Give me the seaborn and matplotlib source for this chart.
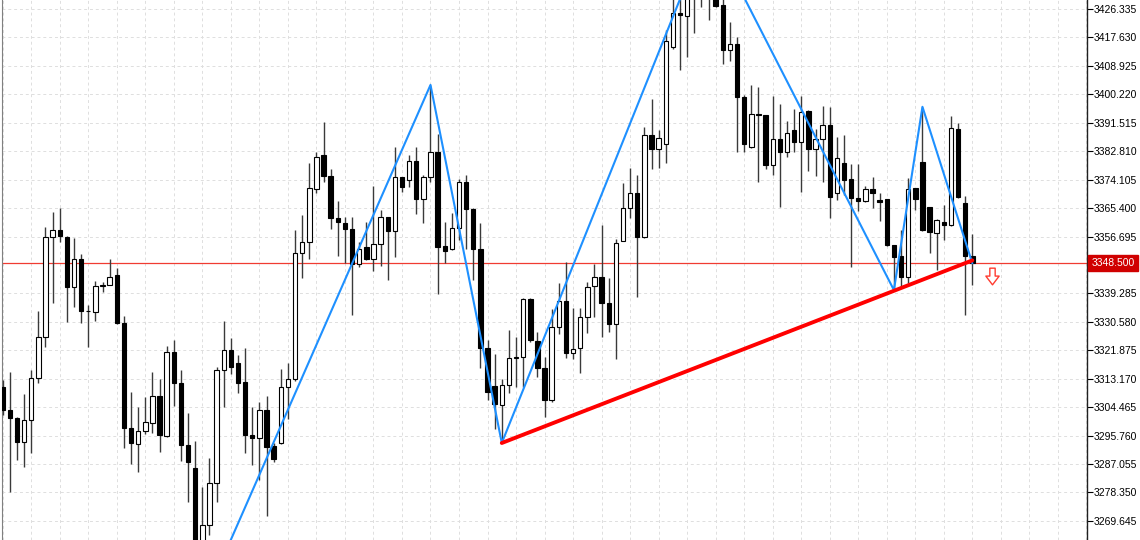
import numpy as np
import pandas as pd
import matplotlib
matplotlib.use("Agg")
import matplotlib.pyplot as plt
import matplotlib.transforms as mtransforms
from matplotlib.path import Path
import seaborn as sns

# --- datos OHLC (una vela por indice) ---
opens = [3310.7, 3303.6, 3301.1, 3293.9, 3300.5, 3313.3, 3325.9, 3356.5, 3358.7, 3356.5,
         3341.3, 3349.7, 3334.0, 3333.7, 3341.5, 3341.9, 3344.8, 3330.3, 3298.0, 3293.2,
         3297.3, 3299.7, 3308.0, 3295.7, 3321.3, 3311.8, 3292.9, 3285.8, 3259.2, 3268.4,
         3281.2, 3315.8, 3322.0, 3317.9, 3312.1, 3296.0, 3294.9, 3303.6, 3292.7, 3293.6,
         3310.5, 3313.0, 3351.7, 3355.1, 3371.2, 3381.6, 3375.2, 3362.3, 3360.7, 3358.9,
         3348.3, 3353.5, 3349.7, 3354.4, 3362.6, 3358.5, 3374.8, 3374.0, 3379.9, 3368.1,
         3375.0, 3382.7, 3353.8, 3352.8, 3359.2, 3373.3, 3365.1, 3352.8, 3322.5, 3310.9,
         3305.1, 3311.3, 3319.4, 3319.7, 3337.5, 3324.8, 3316.4, 3306.7, 3328.9, 3337.0,
         3321.0, 3322.5, 3332.0, 3341.4, 3344.2, 3336.3, 3329.9, 3355.4, 3365.3, 3370.1,
         3356.5, 3387.8, 3383.4, 3385.0, 3414.8, 3425.2, 3424.2, 3433.7, 3441.3, 3438.0,
         3444.0, 3427.6, 3413.8, 3415.5, 3399.3, 3384.0, 3394.1, 3393.9, 3378.6, 3386.5,
         3382.7, 3389.3, 3385.5, 3395.1, 3383.5, 3386.5, 3390.8, 3370.1, 3379.3, 3374.2,
         3368.4, 3367.7, 3371.2, 3367.9, 3368.1, 3354.1, 3350.7, 3344.2, 3371.5, 3379.6,
         3365.6, 3357.9, 3361.2, 3360.2, 3389.5, 3367.1, 3350.7]
highs = [3312.8, 3315.3, 3301.4, 3308.5, 3315.8, 3333.9, 3359.7, 3364.3, 3365.5, 3357.0,
         3356.2, 3351.3, 3335.6, 3343.2, 3342.9, 3349.7, 3347.0, 3332.4, 3309.0, 3304.4,
         3307.5, 3315.3, 3313.1, 3323.2, 3325.0, 3315.8, 3302.6, 3294.1, 3279.9, 3288.8,
         3316.9, 3330.9, 3325.5, 3320.4, 3322.5, 3304.4, 3306.1, 3307.9, 3293.4, 3316.2,
         3317.9, 3358.7, 3363.3, 3379.1, 3382.7, 3391.8, 3377.4, 3367.7, 3362.8, 3362.8,
         3355.1, 3361.1, 3372.3, 3364.8, 3362.8, 3384.2, 3374.9, 3381.6, 3384.0, 3375.5,
         3403.1, 3388.1, 3361.1, 3363.8, 3374.3, 3375.5, 3365.3, 3360.7, 3325.0, 3320.7,
         3313.0, 3328.1, 3326.0, 3337.8, 3338.0, 3327.6, 3319.7, 3334.4, 3342.4, 3349.0,
         3334.7, 3334.7, 3342.9, 3348.3, 3360.2, 3343.9, 3355.8, 3373.2, 3377.6, 3375.5,
         3390.3, 3398.7, 3389.3, 3419.9, 3431.5, 3430.6, 3436.7, 3444.4, 3446.0, 3451.1,
         3446.5, 3433.0, 3422.5, 3417.9, 3400.0, 3403.1, 3402.4, 3394.0, 3399.8, 3397.2,
         3392.1, 3395.6, 3399.8, 3395.4, 3389.6, 3396.6, 3396.4, 3387.2, 3387.8, 3378.9,
         3378.9, 3372.2, 3375.0, 3369.9, 3368.2, 3354.2, 3358.7, 3374.5, 3371.6, 3396.4,
         3365.7, 3362.0, 3366.3, 3393.6, 3391.5, 3369.1, 3357.5]
lows = [3302.1, 3278.6, 3288.3, 3286.2, 3290.3, 3312.0, 3322.8, 3336.4, 3354.9, 3330.6,
        3335.0, 3330.3, 3322.8, 3330.9, 3339.8, 3341.8, 3329.9, 3291.9, 3287.1, 3284.7,
        3296.2, 3296.6, 3290.8, 3295.2, 3304.9, 3288.1, 3275.5, 3253.1, 3244.0, 3265.3,
        3275.5, 3304.4, 3314.6, 3308.9, 3290.5, 3286.8, 3282.2, 3271.2, 3287.8, 3293.2,
        3300.8, 3312.6, 3344.1, 3349.7, 3370.1, 3373.5, 3358.9, 3350.7, 3348.5, 3332.7,
        3347.3, 3349.4, 3346.1, 3347.8, 3343.4, 3350.5, 3370.4, 3371.9, 3363.6, 3360.7,
        3373.5, 3339.0, 3348.5, 3352.5, 3355.6, 3352.8, 3343.4, 3316.4, 3306.7, 3297.7,
        3293.5, 3308.9, 3310.7, 3310.7, 3324.5, 3313.8, 3301.6, 3306.2, 3326.8, 3319.4,
        3319.1, 3315.0, 3327.1, 3332.2, 3325.9, 3327.6, 3319.1, 3355.2, 3362.3, 3338.3,
        3356.3, 3377.3, 3377.6, 3379.3, 3414.0, 3407.7, 3411.6, 3419.1, 3427.0, 3423.0,
        3426.9, 3409.5, 3410.4, 3382.7, 3382.7, 3383.8, 3373.5, 3377.4, 3375.5, 3365.8,
        3380.9, 3382.7, 3370.2, 3376.8, 3375.2, 3373.5, 3362.3, 3367.9, 3369.4, 3347.3,
        3364.6, 3367.4, 3365.3, 3361.5, 3353.9, 3340.3, 3341.3, 3342.6, 3364.8, 3358.5,
        3351.6, 3346.5, 3355.6, 3360.0, 3368.6, 3332.7, 3341.9]
closes = [3303.6, 3301.1, 3293.9, 3300.5, 3313.3, 3326.0, 3356.5, 3358.7, 3356.9, 3341.3,
          3349.7, 3334.0, 3333.8, 3341.6, 3341.9, 3344.4, 3330.1, 3298.0, 3293.4, 3297.3,
          3300.0, 3308.0, 3296.0, 3321.3, 3311.8, 3292.9, 3287.8, 3259.2, 3268.4, 3281.2,
          3315.8, 3322.0, 3316.9, 3312.0, 3296.0, 3294.9, 3303.6, 3292.4, 3288.6, 3310.7,
          3313.0, 3351.6, 3355.1, 3371.5, 3381.1, 3375.2, 3362.5, 3361.1, 3358.9, 3348.3,
          3352.8, 3349.8, 3354.4, 3362.6, 3358.5, 3374.8, 3371.9, 3379.9, 3368.1, 3375.0,
          3382.7, 3353.6, 3352.3, 3359.2, 3373.3, 3365.1, 3352.8, 3322.5, 3309.2, 3305.4,
          3311.3, 3319.4, 3319.9, 3337.5, 3325.0, 3316.4, 3306.7, 3329.1, 3337.0, 3321.0,
          3322.2, 3332.2, 3341.3, 3344.2, 3336.3, 3329.9, 3354.6, 3365.3, 3370.1, 3356.5,
          3387.8, 3383.5, 3386.8, 3416.6, 3425.2, 3424.5, 3433.7, 3441.3, 3438.0, 3444.0,
          3427.3, 3413.8, 3415.5, 3399.3, 3385.0, 3394.1, 3393.9, 3378.6, 3386.5, 3382.7,
          3388.5, 3385.5, 3394.9, 3383.5, 3386.5, 3390.8, 3368.9, 3380.7, 3374.0, 3368.4,
          3367.7, 3371.2, 3370.1, 3367.4, 3354.1, 3350.5, 3344.2, 3371.2, 3368.1, 3358.7,
          3358.2, 3361.8, 3360.2, 3389.8, 3368.7, 3350.7, 3348.5]

# --- ZigZag (azul) y linea de tendencia (roja) ---
zz_idx = [28, 60, 70, 99, 125, 129, 136]
zz_price = [3244.0, 3403.1, 3293.5, 3451.1, 3340.3, 3396.4, 3348.5]
trend_idx = [70, 136]
trend_price = [3293.5, 3349.4]

precio_actual = 3348.5
senal_idx = 138.75
senal_precio = 3344.6

ytick_vals = [3426.335, 3417.630, 3408.925, 3400.220, 3391.515, 3382.810, 3374.105,
              3365.400, 3356.695, 3339.285, 3330.580, 3321.875, 3313.170, 3304.465,
              3295.760, 3287.055, 3278.350, 3269.645]

df = pd.DataFrame({"o": opens, "h": highs, "l": lows, "c": closes})
df["idx"] = np.arange(len(df))
alcista = df["c"] >= df["o"]

# --- ESTILO ---
sns.set_style("white")
plt.rcParams["font.family"] = ["Liberation Sans", "DejaVu Sans"]

fig = plt.figure(figsize=(11.4, 5.4), dpi=100)
ax = fig.add_axes([2 / 1140, 0, 1085 / 1140, 1])

# velas: mechas + cuerpos
ax.vlines(df["idx"], df["l"], df["h"], color="#3a3a3a", lw=1, zorder=3)
cuerpo = (df["c"] - df["o"]).abs().clip(lower=0.25)
base = df[["o", "c"]].min(axis=1)
ax.bar(df["idx"], cuerpo, bottom=base, width=0.62,
       color=np.where(alcista, "white", "black"), edgecolor="black", lw=0.8, zorder=4)

# zigzag y tendencia
sns.lineplot(x=zz_idx, y=zz_price, color="#1e90ff", lw=1.5, ax=ax, zorder=5)
sns.lineplot(x=trend_idx, y=trend_price, color="#ff0000", lw=2.8, ax=ax, zorder=6)
ax.axhline(precio_actual, color="#f03c32", lw=0.9, zorder=2)

# flecha de venta (hueca)
flecha = Path([(-0.32, 1), (0.32, 1), (0.32, 0.05), (0.8, 0.05), (0, -1),
               (-0.8, 0.05), (-0.32, 0.05), (-0.32, 1)], closed=True)
ax.plot([senal_idx], [senal_precio], marker=flecha, ms=12, mfc="white",
        mec="#ff3b30", mew=1.0, ls="none", zorder=7)

# ejes
ax.set_xlim(-0.1, 152.08)
ax.set_ylim(3263.81, 3429.09)
ax.set_xticks(np.arange(0, 153, 4))
ax.set_yticks(ytick_vals)
ax.set_yticklabels([f"{v:.3f}" for v in ytick_vals])
ax.yaxis.tick_right()
ax.tick_params(axis="y", length=4, width=0.8, pad=1, labelsize=7.5, colors="black",
               direction="out")
ax.tick_params(axis="x", length=0, labelbottom=False)
ax.grid(True, color="#dedede", ls=(0, (3, 3)), lw=0.7)
ax.set_axisbelow(True)
for lado in ["top", "bottom"]:
    ax.spines[lado].set_visible(False)
ax.spines["left"].set_color("#808080")
ax.spines["right"].set_color("#202020")
ax.spines["right"].set_linewidth(1)

# etiqueta del precio actual
trans = mtransforms.blended_transform_factory(ax.transAxes, ax.transData)
ax.text(1.004, precio_actual, f"{precio_actual:.3f}", transform=trans, ha="left",
        va="center", color="white", fontsize=7.5, clip_on=False,
        bbox=dict(boxstyle="square,pad=0.3", fc="#d00000", ec="#d00000"))

fig.savefig("out.png", dpi=100)
